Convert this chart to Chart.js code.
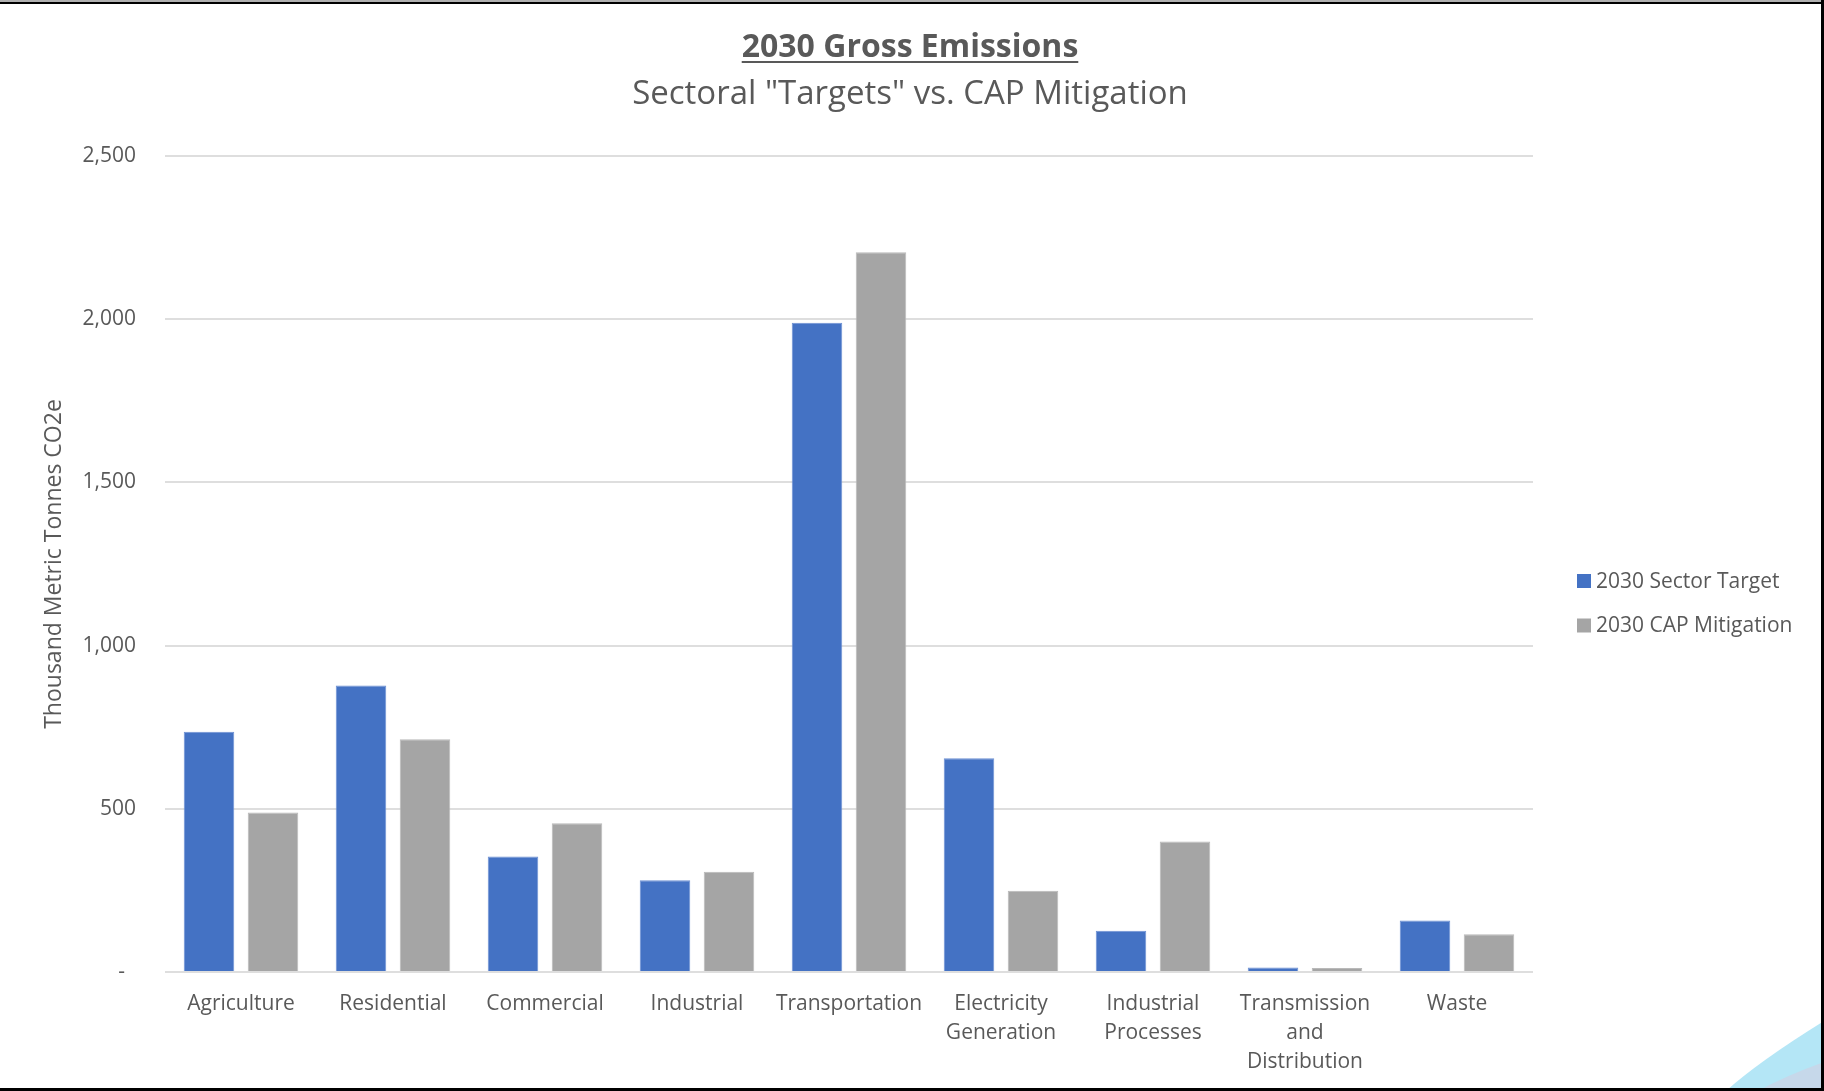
<!DOCTYPE html>
<html>
<head>
<meta charset="utf-8">
<title>2030 Gross Emissions</title>
<script src="https://cdn.jsdelivr.net/npm/chart.js@4/dist/chart.umd.min.js"></script>
<style>
  html, body { margin: 0; padding: 0; background: #fff; overflow: hidden; }
  #wrap { position: relative; width: 1824px; height: 1091px; }
  canvas { display: block; }
  .frame { position: absolute; background: #000; }
</style>
</head>
<body>
<div id="wrap">
  <canvas id="chart" width="1824" height="1091"></canvas>
  <div class="frame" style="left:0;top:0;width:1824px;height:2px;background:#b0b0b0"></div>
  <div class="frame" style="left:0;top:2px;width:1824px;height:2px"></div>
  <div class="frame" style="left:1821px;top:0;width:3px;height:1091px"></div>
  <div class="frame" style="left:0;top:1088px;width:1824px;height:3px"></div>
</div>
<script>
// Sectors along the x axis (multi-line labels as arrays)
const sectors = [
  ["Agriculture"],
  ["Residential"],
  ["Commercial"],
  ["Industrial"],
  ["Transportation"],
  ["Electricity", "Generation"],
  ["Industrial", "Processes"],
  ["Transmission", "and", "Distribution"],
  ["Waste"]
];

// Thousand metric tonnes CO2e
const sectorTarget  = [736, 878, 354, 281, 1989, 655, 126, 14, 158];
const capMitigation = [489, 713, 456, 307, 2205, 249, 400, 12, 116];

const seriesNames = ["2030 Sector Target", "2030 CAP Mitigation"];
const seriesColors = ["#4472C4", "#A5A5A5"];
const seriesEdges = ["#6d90d3", "#b9b9b9"];

const titleText = "2030 Gross Emissions";
const subtitleText = "Sectoral \"Targets\" vs. CAP Mitigation";
const yAxisTitle = "Thousand Metric Tonnes CO2e";

const TEXT = "#595959";
const FONT = "'Open Sans', 'Noto Sans', sans-serif";

// Titles, legend and the corner ornament are painted on the canvas
const decorations = {
  id: "decorations",
  beforeDraw(chart) {
    const ctx = chart.ctx;
    ctx.save();
    ctx.fillStyle = "#ffffff";
    ctx.fillRect(0, 0, chart.width, chart.height);
    ctx.restore();
  },
  afterDraw(chart) {
    const ctx = chart.ctx;
    const cx = chart.width / 2 - 2;
    ctx.save();
    ctx.fillStyle = TEXT;
    ctx.textAlign = "center";
    ctx.textBaseline = "alphabetic";

    // main title, bold and underlined
    ctx.font = "bold 32px " + FONT;
    ctx.fillText(titleText, cx, 57);
    const w = ctx.measureText(titleText).width;
    ctx.fillRect(cx - w / 2, 61, w, 2);

    // subtitle
    ctx.font = "33px " + FONT;
    ctx.fillText(subtitleText, cx, 104);

    // legend on the right
    ctx.textAlign = "left";
    ctx.textBaseline = "middle";
    ctx.font = "21px " + FONT;
    const rows = [581, 625.5];
    chart.data.datasets.forEach((ds, i) => {
      ctx.fillStyle = ds.backgroundColor;
      ctx.fillRect(1577, rows[i] - 7, 14, 14);
      ctx.fillStyle = TEXT;
      ctx.fillText(ds.label, 1596, rows[i] + 1);
    });

    // light-blue ornament in the lower right corner
    ctx.fillStyle = "#b4e6f6";
    ctx.beginPath();
    ctx.moveTo(1726, 1091);
    ctx.quadraticCurveTo(1758, 1062, 1824, 1021);
    ctx.lineTo(1824, 1091);
    ctx.closePath();
    ctx.fill();
    ctx.fillStyle = "#c6d8ea";
    ctx.beginPath();
    ctx.moveTo(1758, 1091);
    ctx.quadraticCurveTo(1785, 1076, 1824, 1062);
    ctx.lineTo(1824, 1091);
    ctx.closePath();
    ctx.fill();
    ctx.restore();
  }
};

new Chart(document.getElementById("chart"), {
  type: "bar",
  data: {
    labels: sectors,
    datasets: [
      {
        label: seriesNames[0],
        data: sectorTarget,
        backgroundColor: seriesColors[0],
        borderColor: seriesEdges[0],
        borderWidth: 1
      },
      {
        label: seriesNames[1],
        data: capMitigation,
        backgroundColor: seriesColors[1],
        borderColor: seriesEdges[1],
        borderWidth: 1
      }
    ]
  },
  options: {
    responsive: false,
    animation: false,
    devicePixelRatio: 1,
    categoryPercentage: 0.842,
    barPercentage: 0.79,
    layout: { padding: { left: 0, right: 291, top: 156, bottom: 0 } },
    plugins: {
      legend: { display: false },
      title: { display: false },
      tooltip: { enabled: false }
    },
    scales: {
      x: {
        grid: { display: false },
        border: { display: false },
        ticks: {
          color: TEXT,
          font: { family: FONT, size: 21, lineHeight: 1.38 },
          padding: 10,
          autoSkip: false,
          maxRotation: 0,
          minRotation: 0
        },
        afterFit(scale) { scale.height = 119; }
      },
      y: {
        min: 0,
        max: 2500,
        grid: { color: "#dedede", lineWidth: 2, drawTicks: false },
        border: { display: false },
        ticks: {
          stepSize: 500,
          color: TEXT,
          padding: 29,
          font: { family: FONT, size: 21 },
          callback: (v) => (v === 0 ? "-  " : v.toLocaleString("en-US"))
        },
        title: {
          display: true,
          text: yAxisTitle,
          color: TEXT,
          font: { family: FONT, size: 23 },
          padding: { top: 41, bottom: 0 }
        },
        afterFit(scale) { scale.width = 165; }
      }
    }
  },
  plugins: [decorations]
});
</script>
</body>
</html>
